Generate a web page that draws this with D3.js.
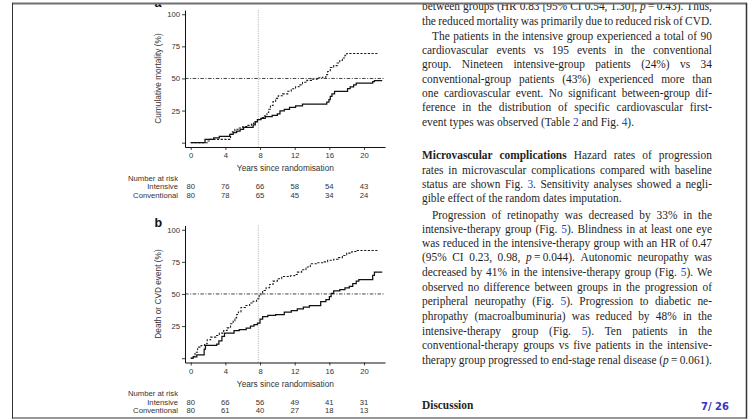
<!DOCTYPE html>
<html>
<head>
<meta charset="utf-8">
<script src="https://cdn.jsdelivr.net/npm/d3@7"></script>
<style>
  body { margin: 0; background: #fff; }
  svg { display: block; }
</style>
</head>
<body>
<div id="page"></div>
<script>
// ---- data: [years, cumulative %] step points ----
const yearTicks = [0, 4, 8, 12, 16, 20];
const pctTicks = [0, 25, 50, 75, 100];
const riskLabels = ["Intensive", "Conventional"];

const mortalityIntensive = [[0,0],[1.65,2.5],[2.65,3.8],[3.3,5],[4.5,6.5],[4.9,7.8],[5.3,9],[5.7,10.4],[6.1,12],[7.2,13.8],
  [7.45,16.3],[7.7,18],[8.1,19],[8.6,20.3],[9.4,21.3],[10.0,22.5],[10.3,24.8],[10.8,26],[11.4,27.5],[12.1,28.6],[12.9,30],
  [15.7,31.5],[15.95,33.5],[16.1,36],[16.3,38],[16.6,40],[18.1,42],[18.4,43.5],[18.8,45],[19.1,46.3],[21.0,47.5],[21.2,48.3],[22.1,48.3]];
const mortalityConventional = [[0,0],[1.9,1.3],[2.2,2.6],[4.5,4],[4.6,6.5],[4.8,8.5],[5.1,10.5],[5.6,11.5],[6.0,12.5],[6.5,13.5],
  [7.0,15],[7.3,16.5],[7.7,18],[8.1,19.5],[8.5,21],[8.8,23.5],[9.0,26],[9.2,29],[9.5,32],[9.8,34.5],[10.1,36.5],[10.6,38],
  [11.2,40],[11.6,42],[12.1,43.5],[12.5,45],[12.9,47],[13.4,48.5],[14.0,49.5],[14.6,50.5],[15.2,51],[15.6,53],[15.8,55.5],
  [16.1,58.5],[16.5,60],[16.9,62],[17.2,64],[17.5,66],[17.8,68],[18.0,69.5],[21.7,69.5]];
const cvdIntensive = [[0,0],[0.3,1],[0.7,2.5],[1.55,7],[1.7,9.9],[3.0,11],[3.25,13.5],[3.6,17],[3.9,19.5],[5.0,21.5],[5.6,22.3],
  [6.4,23.5],[6.9,25],[7.3,26.2],[7.7,27.3],[8.0,30.5],[8.3,32.3],[8.9,33.3],[9.8,34],[10.8,35.8],[11.6,37],[12.3,38.4],
  [13.0,39.7],[13.7,41],[15.0,44],[15.6,45.5],[16.0,48],[16.2,50.5],[16.5,52.4],[17.2,53.3],[17.8,54.8],[18.3,56],[18.7,58],
  [19.1,60],[19.4,61.2],[21.0,64.5],[21.2,67],[22.1,67]];
const cvdConventional = [[0,0],[0.3,1.3],[0.5,4.7],[0.8,8.6],[1.2,9.9],[1.6,11.2],[1.9,14.3],[2.3,16.4],[2.9,17.7],[3.3,19.5],
  [3.8,21.6],[4.2,23.6],[4.6,26.8],[4.9,29],[5.1,31.4],[5.3,34],[5.5,36],[5.8,39.5],[6.3,41],[6.8,42.9],[7.2,44.4],[7.6,46.2],
  [7.9,48.8],[8.1,51],[8.3,52.7],[8.7,54.8],[9.1,57.4],[9.5,60],[10.0,61.8],[10.5,63.6],[11.5,64.2],[12.0,65.2],[12.3,67],
  [12.8,68.8],[13.3,71],[13.8,73.5],[14.6,74.3],[15.3,75],[15.8,76.2],[16.5,77],[17.0,78.3],[17.5,80],[18.0,81.8],[18.6,83],
  [19.2,83.9],[21.7,83.9]];

const riskA = [[80,76,66,58,54,43],[80,78,65,45,34,24]];
const riskB = [[80,66,56,49,41,31],[80,61,40,27,18,13]];

const medianLine = 50;
const landmarkYear = 7.8;

// ---- right column text, each line = segments [text, style] ----
// style: "" plain, "i" italic, "b" bold, "l" link
const bodyLines = [
  {y: 10,    j: true,  s: [["between groups (HR 0.83 [95% CI 0.54, 1.30], ",""],["p","i"],["\u2009=\u20090.43). Thus,",""]]},
  {y: 25,    j: true,  s: [["the reduced mortality was primarily due to reduced risk of CVD.",""]]},
  {y: 39.5,  j: true,  ind: true, s: [["The patients in the intensive group experienced a total of 90",""]]},
  {y: 54,    j: true,  s: [["cardiovascular events vs 195 events in the conventional",""]]},
  {y: 68.2,  j: true,  s: [["group. Nineteen intensive-group patients (24%) vs 34",""]]},
  {y: 82.5,  j: true,  s: [["conventional-group patients (43%) experienced more than",""]]},
  {y: 97,    j: true,  s: [["one cardiovascular event. No significant between-group dif-",""]]},
  {y: 111.4, j: true,  s: [["ference in the distribution of specific cardiovascular first-",""]]},
  {y: 125.8, j: false, s: [["event types was observed (Table ",""],["2","l"],[" and Fig. ",""],["4","l"],[").",""]]},
  {y: 159,   j: true,  s: [["Microvascular complications","b"],[" Hazard rates of progression",""]]},
  {y: 173.5, j: true,  s: [["rates in microvascular complications compared with baseline",""]]},
  {y: 188,   j: true,  s: [["status are shown Fig. ",""],["3","l"],[". Sensitivity analyses showed a negli-",""]]},
  {y: 202,   j: false, s: [["gible effect of the random dates imputation.",""]]},
  {y: 218.5, j: true,  ind: true, s: [["Progression of retinopathy was decreased by 33% in the",""]]},
  {y: 232.7, j: true,  s: [["intensive-therapy group (Fig. ",""],["5","l"],["). Blindness in at least one eye",""]]},
  {y: 247.2, j: true,  s: [["was reduced in the intensive-therapy group with an HR of 0.47",""]]},
  {y: 261.4, j: true,  s: [["(95% CI 0.23, 0.98, ",""],["p","i"],["\u2009=\u20090.044). Autonomic neuropathy was",""]]},
  {y: 276.4, j: true,  s: [["decreased by 41% in the intensive-therapy group (Fig. ",""],["5","l"],["). We",""]]},
  {y: 290.7, j: true,  s: [["observed no difference between groups in the progression of",""]]},
  {y: 304.9, j: true,  s: [["peripheral neuropathy (Fig. ",""],["5","l"],["). Progression to diabetic ne-",""]]},
  {y: 319.9, j: true,  s: [["phropathy (macroalbuminuria) was reduced by 48% in the",""]]},
  {y: 334.9, j: true,  s: [["intensive-therapy group (Fig. ",""],["5","l"],["). Ten patients in the",""]]},
  {y: 349,   j: true,  s: [["conventional-therapy groups vs five patients in the intensive-",""]]},
  {y: 364,   j: true,  s: [["therapy group progressed to end-stage renal disease (",""],["p","i"],["\u2009=\u20090.061).",""]]},
  {y: 409,   j: false, s: [["Discussion","b"]]}
];

const W = 750, H = 419;
const sans = "'Liberation Sans', Arial, Helvetica, sans-serif";
const serif = "'Liberation Serif', 'Times New Roman', serif";

const svg = d3.select("#page").append("svg")
  .attr("width", W).attr("height", H);

svg.append("rect").attr("width", W).attr("height", H).attr("fill", "#fff");

// ---- one Kaplan-Meier style panel ----
function drawPanel(top, series, risk, yTitle, letter, letterY) {
  const g = svg.append("g").attr("font-family", sans);

  var x = d3.scaleLinear().domain([-0.66, 22.42]).range([185, 385]);
  var y = d3.scaleLinear().domain([-3.35, 103.3]).range([top + 137, top]);
  const axisY = top + 137;

  // reference lines
  g.append("line")
    .attr("x1", x(landmarkYear)).attr("x2", x(landmarkYear))
    .attr("y1", top).attr("y2", axisY)
    .attr("stroke", "#9a9a9a").attr("stroke-width", 0.8)
    .attr("stroke-dasharray", "1,1.3");
  g.append("line")
    .attr("x1", x.range()[0]).attr("x2", x.range()[1])
    .attr("y1", y(medianLine)).attr("y2", y(medianLine))
    .attr("stroke", "#111").attr("stroke-width", 0.8)
    .attr("stroke-dasharray", "3.5,1.6,1,1.6");

  var line = d3.line()
    .x(d => x(d[0]))
    .y(d => y(d[1]))
    .curve(d3.curveStepAfter);

  // conventional (dashed) then intensive (solid)
  g.append("path").datum(series[1])
    .attr("d", line).attr("fill", "none")
    .attr("stroke", "#1a1a1a").attr("stroke-width", 1.05)
    .attr("stroke-dasharray", "2.2,1.5");
  g.append("path").datum(series[0])
    .attr("d", line).attr("fill", "none")
    .attr("stroke", "#111").attr("stroke-width", 1.25);

  // axes
  const ax = g.append("g").attr("transform", "translate(0," + axisY + ")")
    .call(d3.axisBottom(x).tickValues(yearTicks).tickSize(3).tickSizeOuter(0).tickPadding(3));
  const ay = g.append("g").attr("transform", "translate(185,0)")
    .call(d3.axisLeft(y).tickValues(pctTicks).tickSize(3).tickSizeOuter(0).tickPadding(2)
      .tickFormat(d => d === 0 ? "" : d));
  [ax, ay].forEach(a => {
    a.select(".domain").attr("stroke", "#111").attr("stroke-width", 1);
    a.selectAll(".tick line").attr("stroke", "#111").attr("stroke-width", 0.8);
    a.selectAll("text").attr("font-size", 7.7).attr("fill", "#333").attr("font-family", sans);
  });

  // titles
  g.append("text")
    .attr("x", (x(0) + x(20)) / 2 + 8).attr("y", axisY + 21)
    .attr("text-anchor", "middle").attr("dominant-baseline", "central")
    .attr("font-size", 8.3).attr("fill", "#333")
    .text("Years since randomisation");
  g.append("text")
    .attr("transform", "translate(158," + ((y(0) + y(100)) / 2) + ") rotate(-90)")
    .attr("text-anchor", "middle").attr("dominant-baseline", "central")
    .attr("font-size", 8.3).attr("fill", "#333")
    .text(yTitle);
  g.append("text")
    .attr("x", 154.5).attr("y", letterY)
    .attr("font-size", 12.5).attr("font-weight", "bold").attr("fill", "#111")
    .text(letter);

  // number at risk
  g.append("text")
    .attr("x", 178).attr("y", axisY + 31)
    .attr("text-anchor", "end").attr("dominant-baseline", "central")
    .attr("font-size", 7.7).attr("fill", "#333")
    .text("Number at risk");
  riskLabels.forEach((lab, i) => {
    const ry = axisY + 39.5 + i * 8.5;
    g.append("text")
      .attr("x", 178).attr("y", ry)
      .attr("text-anchor", "end").attr("dominant-baseline", "central")
      .attr("font-size", 7.7).attr("fill", "#333")
      .text(lab);
    g.selectAll(null).data(risk[i]).enter().append("text")
      .attr("x", (d, k) => x(yearTicks[k])).attr("y", ry)
      .attr("text-anchor", "middle").attr("dominant-baseline", "central")
      .attr("font-size", 7.7).attr("fill", "#333")
      .text(d => d);
  });
}

drawPanel(10, [mortalityIntensive, mortalityConventional], riskA, "Cumulative mortality (%)", "a", 6.7);
drawPanel(225.5, [cvdIntensive, cvdConventional], riskB, "Death or CVD event (%)", "b", 226.5);

// ---- right text column, justified by hand ----
const colX = 422, colW = 290, indent = 10, fs = 12;
const baseSx = 0.95;      // the PDF face is a touch narrower than Liberation Serif
const minGap = fs * 0.16;
const txt = svg.append("g").attr("font-family", serif).attr("font-size", fs).attr("fill", "#1e1e1e");

bodyLines.forEach(L => {
  // break segments into words, keeping style pieces
  const words = [];
  let cur = [];
  L.s.forEach(([t, st]) => {
    let buf = "";
    for (const ch of t) {
      if (ch === " ") {
        if (buf) cur.push([buf, st]);
        buf = "";
        if (cur.length) words.push(cur);
        cur = [];
      } else buf += ch;
    }
    if (buf) cur.push([buf, st]);
  });
  if (cur.length) words.push(cur);

  const x0 = colX + (L.ind ? indent : 0);
  const avail = colW - (L.ind ? indent : 0);
  const t = txt.append("text");
  const wordNodes = words.map(w => w.map(([s, st]) => {
    const ts = t.append("tspan").text(s);
    if (st === "i") ts.attr("font-style", "italic");
    if (st === "b") ts.attr("font-weight", "bold");
    if (st === "l") ts.attr("fill", "#2f3fc8");
    return ts;
  }));
  const widths = wordNodes.map(ns => d3.sum(ns, n => n.node().getComputedTextLength()));
  const total = d3.sum(widths);
  let sx = baseSx;
  let gap = fs * 0.25;
  if (L.j && words.length > 1) {
    const local = avail / sx;
    gap = (local - total) / (words.length - 1);
    if (gap < minGap) {
      gap = minGap;
      sx = avail / (total + minGap * (words.length - 1));
    }
  }
  t.attr("transform", "translate(" + x0 + "," + L.y + ") scale(" + sx + ",1)");
  let xx = 0;
  wordNodes.forEach((ns, i) => {
    ns[0].attr("x", xx);
    xx += widths[i] + gap;
  });
});

// page number
svg.append("text")
  .attr("x", 729).attr("y", 410)
  .attr("text-anchor", "end")
  .attr("font-family", "'DejaVu Sans', sans-serif").attr("font-weight", "bold")
  .attr("font-size", 10).attr("fill", "#3535c0")
  .text("7/ 26");

// ---- page frame, top edge hides what scrolled above ----
svg.append("rect").attr("x", 0).attr("y", 0).attr("width", W).attr("height", 3).attr("fill", "#fff");
svg.append("line").attr("x1", 12).attr("x2", 747).attr("y1", 3.5).attr("y2", 3.5)
  .attr("stroke", "#707070").attr("stroke-width", 2);
svg.append("line").attr("x1", 12.5).attr("x2", 12.5).attr("y1", 3).attr("y2", 418.5)
  .attr("stroke", "#333").attr("stroke-width", 1);
svg.append("line").attr("x1", 746.5).attr("x2", 746.5).attr("y1", 3).attr("y2", 418.5)
  .attr("stroke", "#333").attr("stroke-width", 1.5);
svg.append("line").attr("x1", 12).attr("x2", 747).attr("y1", 418).attr("y2", 418)
  .attr("stroke", "#333").attr("stroke-width", 1.2);
</script>
</body>
</html>
